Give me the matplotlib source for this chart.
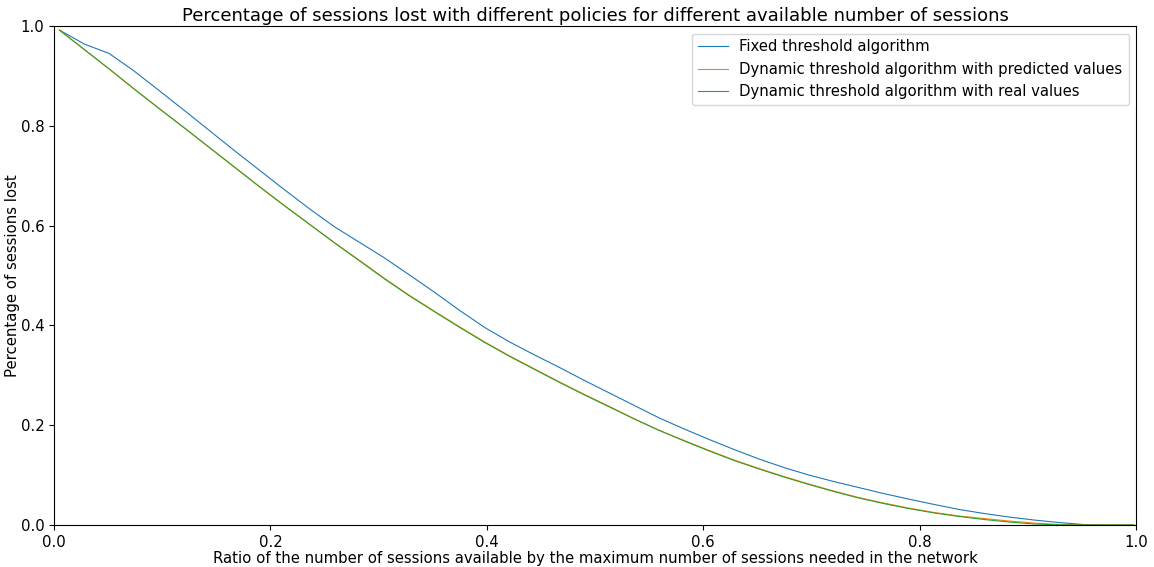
import matplotlib
matplotlib.use("Agg")
import matplotlib.pyplot as plt

# Ratio of available sessions to the maximum number of sessions needed
ratio = [0.005, 0.028, 0.051, 0.074, 0.097, 0.121, 0.144, 0.167, 0.190, 0.213,
         0.236, 0.259, 0.282, 0.305, 0.328, 0.352, 0.375, 0.398, 0.421, 0.444,
         0.467, 0.490, 0.513, 0.536, 0.559, 0.583, 0.606, 0.629, 0.652, 0.675,
         0.698, 0.721, 0.744, 0.767, 0.790, 0.814, 0.837, 0.860, 0.883, 0.906,
         0.929, 0.952, 0.975, 0.998]

# Fraction of sessions lost for each policy
lost_fixed = [0.992, 0.964, 0.945, 0.910, 0.871, 0.830, 0.790, 0.750, 0.711, 0.672,
              0.634, 0.598, 0.567, 0.536, 0.502, 0.466, 0.430, 0.396, 0.367, 0.341,
              0.316, 0.290, 0.265, 0.240, 0.215, 0.192, 0.171, 0.151, 0.132, 0.115,
              0.100, 0.087, 0.075, 0.063, 0.052, 0.041, 0.031, 0.023, 0.016, 0.010,
              0.005, 0.001, 0.000, 0.000]

lost_predicted = [0.992, 0.953, 0.914, 0.874, 0.835, 0.795, 0.756, 0.717, 0.678, 0.640,
                  0.603, 0.566, 0.531, 0.495, 0.461, 0.428, 0.397, 0.367, 0.339, 0.313,
                  0.287, 0.262, 0.238, 0.213, 0.190, 0.169, 0.149, 0.130, 0.113, 0.097,
                  0.082, 0.068, 0.055, 0.044, 0.034, 0.025, 0.018, 0.013, 0.008, 0.004,
                  0.001, 0.000, 0.000, 0.000]

lost_real = [0.992, 0.953, 0.914, 0.874, 0.835, 0.795, 0.756, 0.717, 0.678, 0.640,
             0.603, 0.566, 0.530, 0.494, 0.460, 0.427, 0.396, 0.366, 0.338, 0.312,
             0.286, 0.261, 0.237, 0.213, 0.190, 0.168, 0.148, 0.129, 0.112, 0.096,
             0.081, 0.067, 0.054, 0.043, 0.033, 0.024, 0.017, 0.011, 0.006, 0.002,
             0.0005, 0.000, 0.000, 0.000]

labels = ["Fixed threshold algorithm",
          "Dynamic threshold algorithm with predicted values",
          "Dynamic threshold algorithm with real values"]

fig = plt.figure(figsize=(11.54, 5.67), dpi=100)
ax = fig.add_axes([0.0468, 0.074, 0.9376, 0.880])

ax.plot(ratio, lost_fixed, color="#1f77b4", lw=0.8, label=labels[0])
ax.plot(ratio, lost_predicted, color="#ff7f0e", lw=0.8, label=labels[1])
ax.plot(ratio, lost_real, color="#2ca02c", lw=0.8, label=labels[2])

ax.set_xlim(0, 1)
ax.set_ylim(0, 1)
ax.set_xticks([0.0, 0.2, 0.4, 0.6, 0.8, 1.0])
ax.set_yticks([0.0, 0.2, 0.4, 0.6, 0.8, 1.0])
ax.tick_params(labelsize=10.7)

ax.set_title("Percentage of sessions lost with different policies for different available number of sessions",
             fontsize=13, pad=4)
ax.set_xlabel("Ratio of the number of sessions available by the maximum number of sessions needed in the network",
              fontsize=10.7, labelpad=1)
ax.set_ylabel("Percentage of sessions lost", fontsize=10.7)
ax.yaxis.set_label_coords(-0.031, 0.5)

ax.legend(loc="upper right", fontsize=10.7)

fig.savefig("out.png", dpi=100)
